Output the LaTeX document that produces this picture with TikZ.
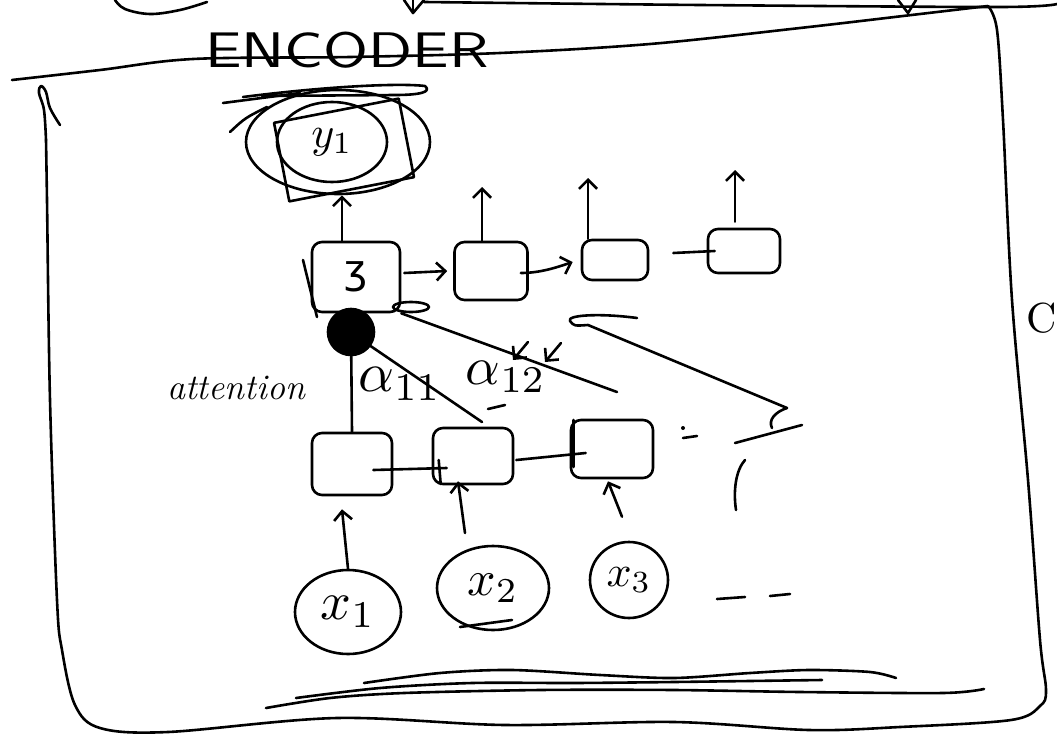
\documentclass[tikz,border=0pt]{standalone}
\usepackage{fontspec}
\newfontfamily\dejavu{DejaVu Sans}
\usetikzlibrary{shapes.geometric,arrows.meta,calc}
\newcommand{\mybig}[2]{\scalebox{#1}{#2}}
\begin{document}
\begin{tikzpicture}[x=1pt,y=-1pt,
  pen/.style={line width=2.6pt,line cap=round,line join=round},
  cell/.style={pen,draw,rounded corners=10pt,inner sep=0pt},
  blob/.style={pen,draw,ellipse,inner sep=0pt},
  barb/.style={-{Straight Barb[length=9pt,width=18pt]}},
  hand/.style={font=\fontsize{#1}{#1}\selectfont},
]
\useasboundingbox (0,0) rectangle (1057,736);

% ---------- top remnants ----------
\draw[pen] plot[smooth,tension=0.6] coordinates {(115,0) (125,9) (150,14) (180,10) (207,2)};
\draw[pen] (404,0) -- (413,13) -- (424,0);
\draw[pen] (413,13) -- (413,0);
\draw[pen] plot[smooth] coordinates {(424,2) (700,5) (1000,7) (1057,4)};
\draw[pen] (898,0) -- (908,13) -- (916,0);

% ---------- encoder frame ----------
\draw[pen] plot[smooth,tension=0.55] coordinates {(12,80) (100,70) (193,59) (350,57) (500,53) (650,44) (800,28) (920,14) (988,6)};
\draw[pen] plot[smooth,tension=0.55] coordinates {(988,6) (997,30) (1003,120) (1012,300) (1028,480) (1040,640) (1046,690) (1040,706) (1011,720) (900,727) (809,730) (674,722) (505,725) (337,718) (168,732) (100,728) (75,705) (62,650) (57,600) (50,400) (47,200) (46,140)};
\draw[pen] plot[smooth,tension=0.6] coordinates {(46,140) (44,110) (39,93) (41,86) (46,92) (50,108) (60,125)};
\node[hand=50,xscale=1.3] (enc) at (347,50) {\sffamily ENCODER};
\node[inner sep=0pt] (cc) at (1042,318) {\mybig{4.2}{C}};

% bottom scribbles
\draw[pen] plot[smooth] coordinates {(364,683) (440,673) (512,670) (600,675) (674,678) (750,673) (809,670) (870,672) (896,678)};
\draw[pen] plot[smooth] coordinates {(296,698) (380,688) (472,683) (574,683) (674,682) (822,680)};
\draw[pen] plot[smooth] coordinates {(266,708) (330,698) (404,693) (540,690) (674,690) (800,692) (943,693) (984,689)};

% ---------- output y1 ----------
\node[blob,minimum width=184pt,minimum height=104pt] (yo) at (338,142) {};
\node[pen,draw,rectangle,rotate=11,minimum width=127pt,minimum height=80pt] (yr) at (344,150) {};
\node[blob,minimum width=110pt,minimum height=80pt] (y1) at (332,142) {\mybig{4.4}{$y_1$}};
\draw[pen] (243,97) .. controls (330,86) and (400,83) .. (425,86) .. controls (432,92) and (420,95) .. (395,95) -- (262,96);
\draw[pen] (223,103) -- (300,93);
\draw[pen] (230,132) .. controls (245,118) .. (267,107);

% ---------- decoder cells ----------
\node[cell,minimum width=88pt,minimum height=70pt] (D1) at (356,277) {\mybig{4}{\dejavu ʒ}};
\node[cell,minimum width=73pt,minimum height=58pt] (D2) at (491,271) {};
\node[cell,minimum width=66pt,minimum height=40pt] (D3) at (615,260) {};
\node[cell,minimum width=72pt,minimum height=44pt] (D4) at (744,251) {};
\draw[pen] (303,260) -- (317,317);
\draw[pen] (411,307) ellipse [x radius=18, y radius=5];

\coordinate (o2) at (482,187);
\coordinate (o3) at (588,178);
\coordinate (o4) at (735,170);
\draw[pen,barb] ($(D1.north)+(-14,0)$) -- ($(yo.south)+(4,0)$);
\draw[pen,barb] (D2.north -| o2) -- (o2);
\draw[pen,barb] (D3.north -| o3) -- (o3);
\draw[pen,barb] ($(D4.north -| o4)+(0,-6)$) -- (o4);
\draw[pen,barb] ($(D1.east)+(3,-4)$) -- ($(D2.west)+(-6,0)$);
\draw[pen,barb] ($(D2.east)+(-8,2)$) .. controls +(20,0) and +(-15,5) .. ($(D3.west)+(-8,2)$);
\draw[pen] ($(D3.east)+(24,-7)$) -- ($(D4.west)+(8,0)$);

% ---------- attention ----------
\coordinate (a1) at (482,422);
\coordinate (b1) at (617,392);
\coordinate (c1) at (787,408);
\draw[pen] (350,332) -- (a1);
\draw[pen] (D1.south east) -- (b1);
\draw[pen] (637,318) .. controls (600,313) and (566,315) .. (570,321) .. controls (574,326) .. (588,325) -- (c1);
\draw[pen] (c1) .. controls (775,412) and (768,420) .. (772,428);
\draw[pen] (735,443) -- (802,425);
\node[circle,fill=black,draw,pen,minimum size=46pt,inner sep=0pt] (att) at (351,332) {};
\draw[pen,barb] (528,342) -- (513,360);
\draw[pen,barb] (561,343) -- (545,362);

\node[hand=36,inner sep=0pt] (attn) at (236,388) {\itshape attention};
\node[inner sep=0pt] (al1) at (400,384) {\mybig{5.6}{$\alpha_{11}$}};
\node[inner sep=0pt] (al2) at (506,377) {\mybig{5.4}{$\alpha_{12}$}};
\draw[pen] (488,409) -- (505,405);

% ---------- encoder cells ----------
\node[cell,minimum width=80pt,minimum height=62pt] (E1) at (352,464) {};
\node[cell,minimum width=80pt,minimum height=56pt] (E2) at (473,456) {};
\node[cell,minimum width=82pt,minimum height=58pt] (E3) at (612,449) {};
\draw[pen] (att) -- (E1.north);
\draw[pen] ($(E1.east)+(-20,6)$) -- ($(E2.west)+(15,12)$);
\draw[pen] ($(E2.west)+(7,4)$) -- ($(E2.west)+(9,28)$);
\draw[pen] ($(E2.east)+(2,4)$) -- ($(E3.west)+(16,4)$);
\draw[pen] ($(E3.west)+(4,-29)$) -- ($(E3.west)+(4,18)$);
% partial fourth cell
\draw[pen] (745,460) .. controls (736,470) and (733,490) .. (736,510);
\fill (683,428) circle (2pt);
\draw[pen] (683,438) -- (697,436);

% ---------- inputs ----------
\node[blob,minimum width=106pt,minimum height=84pt] (x1) at (348,612) {\mybig{5.4}{$x_1$}};
\node[blob,minimum width=112pt,minimum height=84pt] (x2) at (493,588) {\mybig{5}{$x_2$}};
\node[blob,minimum width=78pt,minimum height=76pt] (x3) at (629,580) {\mybig{4.4}{$x_3$}};
\draw[pen,barb] (x1.north) -- ($(E1.south)+(-10,13)$);
\draw[pen,barb] ($(x2)+(-28,-55)$) -- ($(E2.south)+(-15,-4)$);
\draw[pen,barb] ($(x3.north)+(-7,-24)$) -- ($(E3.south)+(-4,2)$);
\draw[pen] (460,627) -- (512,620);
\draw[pen] (717,599) -- (745,597);
\draw[pen] (770,596) -- (790,594);
\end{tikzpicture}
\end{document}
